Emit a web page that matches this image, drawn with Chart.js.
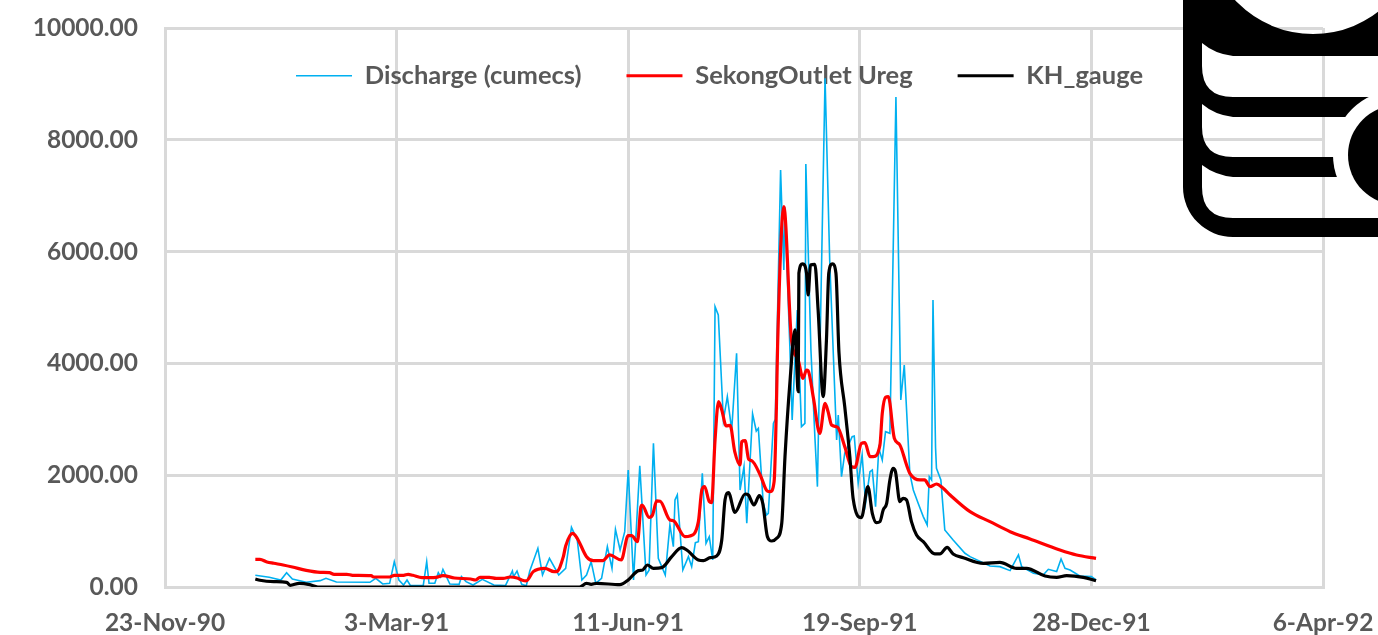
<!DOCTYPE html>
<html><head><meta charset="utf-8">
<style>html,body{margin:0;padding:0;background:#fff;overflow:hidden}#w{position:relative;width:1378px;height:635px}canvas{display:block}svg{position:absolute;left:0;top:0;pointer-events:none}</style>
<script src="https://cdn.jsdelivr.net/npm/chart.js@4"></script>
</head><body><div id="w"><canvas id="c" width="1378" height="635"></canvas>
<svg width="1378" height="635" viewBox="0 0 1378 635">
<path fill="#000" fill-rule="evenodd" d="M1183 -5H1385V237H1233A50 50 0 0 1 1183 187Z
M1206.500 -72.500A106.500 106.500 0 1 0 1419.500 -72.500A106.500 106.500 0 1 0 1206.500 -72.500Z
M1202 43Q1215 54 1233 56H1385V97H1233Q1202 97 1202 66Z
M1202 104Q1215 115 1233 117H1385V157H1233Q1202 157 1202 127Z
M1202 165Q1215 175 1233 177H1385V218H1233Q1202 218 1202 187Z"/>
<circle cx="1398" cy="155" r="65" fill="#fff"/><circle cx="1398" cy="155" r="50" fill="#000"/>
</svg></div>
<script>
const xTickLabels = ["23-Nov-90","3-Mar-91","11-Jun-91","19-Sep-91","28-Dec-91","6-Apr-92"];
const seriesNames = ["Discharge (cumecs)","SekongOutlet Ureg","KH_gauge"];
// x = days since 23-Nov-90
const dischargeDays = [39,45,50,52.5,55,61,67,69.5,74,88.5,91,94,97,99,101,103,104.5,106,111.5,113,114,116.5,118,119,120,123,127,128,130,133,137,142,147,150,150.5,152,154,156,157.5,161,163,166,170,173,175.5,178,180,182,184,186,188.5,191,193,194.5,196.5,198.5,200,202.3,205,207.7,209,210.9,213,216,218,219.5,220.2,221.2,223.6,226,227.4,229,230.3,232,233.6,235,236.5,237.5,238.9,241.1,242.8,244.7,246.8,248.3,250,251.2,253.7,255.3,256.2,258.3,259.7,260.5,262.7,263.5,265.8,267.2,267.6,269.8,270.8,273,274.8,276.3,276.7,278.9,280.6,281.7,285,287,290,290.7,292.1,293.5,296.7,297.6,299.3,301,302.5,304.4,305.4,306.8,308.2,309.7,311.1,313,315.6,317.7,319.2,321.6,323.1,325.2,327.4,329.1,330,331,331.6,332.7,333.1,335,336.7,340.3,345.4,347.6,356.2,360.5,364.9,368.5,369.9,375,379.2,381.4,385,386.9,388.6,390.8,395,400,402];
const dischargeValues = [209,173,125,257,143,84,114,155,90,84,155,54,66,453,125,36,125,24,24,453,66,66,257,185,316,54,48,185,96,36,137,36,24,286,185,286,48,24,286,692,215,513,215,334,1068,841,125,215,453,66,155,722,334,1032,662,990,2093,125,2170,215,300,2570,513,215,1110,722,1557,1646,305,543,364,793,811,2034,782,901,483,5015,4866,2987,3405,2809,4180,1735,2153,1140,3100,2790,2838,1497,1288,1318,2928,3000,7460,5671,6804,4300,2988,4956,2869,2928,7568,4240,2690,1795,9100,5850,2630,3077,1974,2391,2690,2702,1855,2362,1500,2064,2093,1437,2481,2272,2779,2749,8765,3346,3972,2034,1736,1497,1259,1110,1974,1915,5134,2500,2123,1915,1020,841,603,543,376,364,293,573,364,245,215,316,275,501,334,304,197,185,126];
const sekongDays = [39,41,44,47,51,55,61,67,71,73,78.5,81,89,90,97,99,103,105,107,111,117,120,125,132,134,136,140,143,146,149,152,154,156,159,164,168,169,172,173,176,178,182,185,189,192,197,200,201.500,204,205.500,206,209,210.500,212.300,213.800,218,219.500,224.500,226.700,230.300,231.800,233,235,236,237.500,239,240.400,242.300,244,246,248.300,249,250.500,252,253.300,257,260,261.300,263,264,264.500,267.200,270.500,273.400,275.500,277,277.700,280,282.700,285,286.300,287.800,290.400,293.500,296.400,297.900,300.700,302.200,304.400,305.800,308.700,309.700,311.100,312.300,314.900,317.300,320.200,321.600,326,328,330.300,333.100,336,339,347.600,356.200,364.900,373.500,386.400,393.600,402];
const sekongValues = [495,495,448,424,394,358,298,263,257,227,227,209,203,179,179,209,209,227,209,167,173,203,161,143,125,173,173,155,155,179,161,125,108,275,334,275,275,543,734,960,871,543,471,471,573,483,919,919,811,1437,1467,1247,1288,1539,1533,1199,1187,901,913,1169,1736,1795,1527,1509,2630,3316,3167,2881,2893,2421,2183,2600,2618,2284,2260,2004,1718,1706,1885,3226,4300,6804,4419,4061,3733,3882,3870,3375,2749,3286,3137,2898,2857,2511,2153,2141,2570,2582,2332,2332,2541,3107,3393,3405,2660,2541,2183,2034,1915,1915,1795,1843,1766,1646,1348,1169,990,859,662,573,513];
const khDays = [39,41,47,52.500,54,58,62.500,66,179,182,184,186.400,196.400,200,204.400,206.300,208.300,210.900,214.500,218.800,223.100,225.300,230.300,232.500,235.400,238.200,240.400,241.800,243.300,246.100,250.500,251.900,254.300,256.600,258.100,260.100,262,264.100,266.300,267.700,269.900,272,273.400,273.700,275.300,277,277.700,278.700,280.600,282,284.200,285.600,286.600,288.200,289.700,291,293.500,295.700,297.100,300.700,303.500,305.400,307.200,308.700,310.100,311.600,313,314.400,315.400,317.300,318.700,320.200,322.300,324.500,327.400,332.400,334.600,337.700,340.300,344.700,353.300,360.500,367.700,372,380,385,389.300,396.500,402];
const khValues = [143,120,96,84,30,66,42,0,0,66,48,66,42,125,293,305,394,334,346,543,704,662,483,471,525,555,841,1557,1688,1336,1664,1646,1467,1634,1497,901,823,871,1140,2332,3703,4600,3495,5612,5779,5612,5224,5760,5772,4956,3405,4419,5612,5779,5612,4200,3226,2332,1587,1241,1795,1318,1151,1169,1378,1497,1915,2123,2064,1527,1586,1557,1169,931,811,591,591,710,591,525,424,442,334,334,197,173,203,173,114];
const yMax = 10000, yStep = 2000, xMax = 500, xStep = 100;
const zip = (a,b) => a.map((x,i) => ({x, y:b[i]}));
const legendMover = {
  id:'legendMover',
  beforeLayout(chart){
    const l = chart.legend;
    if (l && !l._patched){ const f = l.fit; l.fit = function(){ f.call(this); this.height = 28; }; l._patched = true; }
  },
  afterLayout(chart){
    const l = chart.legend;
    l.left = 296 - 45; l.right = 1300; l.top = 18; l.bottom = 140;
  }
};
new Chart(document.getElementById('c'), {
  type:'line',
  plugins:[legendMover],
  data:{datasets:[
    {label:seriesNames[0],data:zip(dischargeDays,dischargeValues),borderColor:'#00b0f0',backgroundColor:'#00b0f0',borderWidth:1.6,pointRadius:0,tension:0,order:3},
    {label:seriesNames[1],data:zip(sekongDays,sekongValues),borderColor:'#ff0000',backgroundColor:'#ff0000',borderWidth:3.2,pointRadius:0,cubicInterpolationMode:'monotone',order:2},
    {label:seriesNames[2],data:zip(khDays,khValues),borderColor:'#000000',backgroundColor:'#000000',borderWidth:3.2,pointRadius:0,cubicInterpolationMode:'monotone',order:1}
  ]},
  options:{
    responsive:false,animation:false,parsing:false,normalized:true,
    layout:{padding:{left:0,right:55,top:0,bottom:0}},
    plugins:{
      title:{display:false},tooltip:{enabled:false},
      legend:{display:true,position:'top',align:'start',
        labels:{usePointStyle:true,pointStyle:'line',pointStyleWidth:56,padding:45,color:'#595959',
          font:{family:'Lato',weight:'bold',size:25.5},
          sort:(a,b)=>a.datasetIndex-b.datasetIndex}}
    },
    scales:{
      x:{type:'linear',min:0,max:xMax,
        afterFit(s){s.height=48;s.paddingLeft=0;s.paddingRight=0;},
        grid:{color:'#d9d9d9',lineWidth:3,drawTicks:false},border:{color:'#d9d9d9',width:3},
        ticks:{stepSize:xStep,autoSkip:false,maxRotation:0,padding:21,color:'#595959',font:{family:'Lato',weight:'bold',size:24.5},
          callback:(v)=>xTickLabels[v/xStep]}},
      y:{min:0,max:yMax,
        afterFit(s){s.width=165;s.paddingTop=0;s.paddingBottom=0;},
        grid:{color:'#d9d9d9',lineWidth:3,drawTicks:false},border:{color:'#d9d9d9',width:3},
        ticks:{stepSize:yStep,padding:27,color:'#595959',font:{family:'Lato',weight:'bold',size:24.5},
          callback:(v)=>v.toFixed(2)}}
    }
  }
});
</script></body></html>
